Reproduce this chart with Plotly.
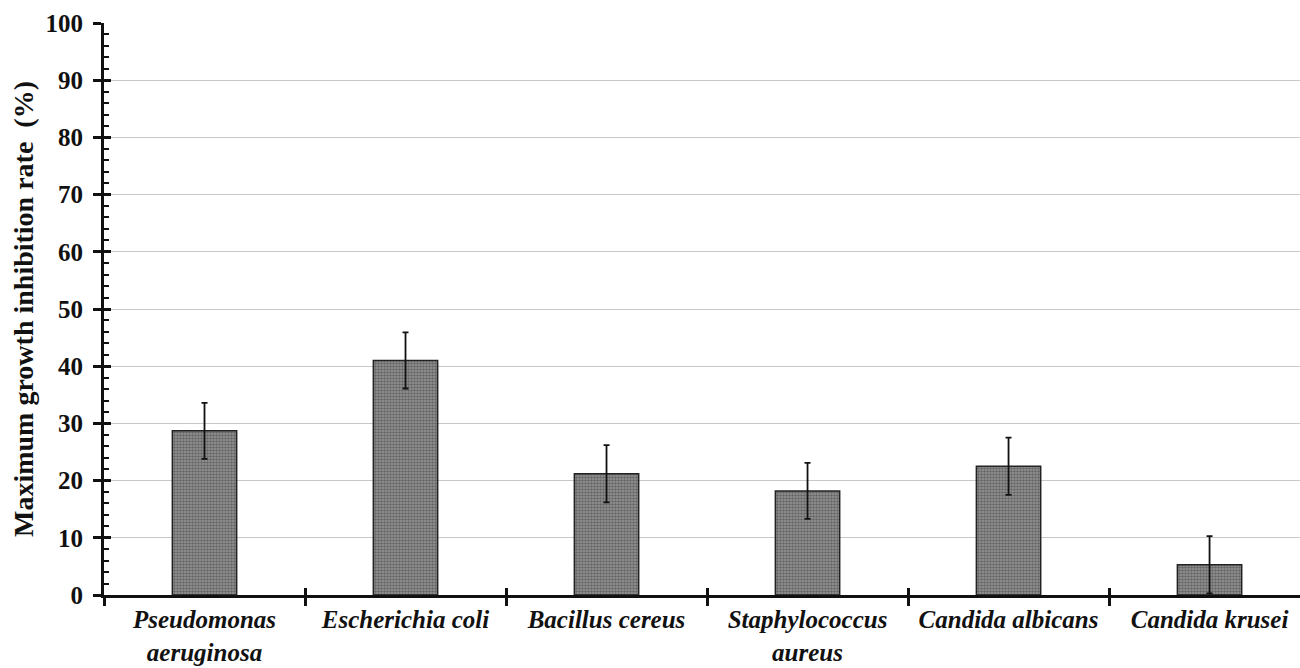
import plotly.graph_objects as go

categories = ["Pseudomonas<br>aeruginosa", "Escherichia coli", "Bacillus cereus",
              "Staphylococcus<br>aureus", "Candida albicans", "Candida krusei"]
values = [28.7, 41.0, 21.2, 18.2, 22.5, 5.3]
errors = [4.9, 4.9, 5.0, 4.9, 5.0, 5.0]
y_ticks = [0, 10, 20, 30, 40, 50, 60, 70, 80, 90, 100]

font_family = "Liberation Serif"

fig = go.Figure()
fig.add_trace(go.Bar(
    x=categories, y=values,
    width=0.32,
    marker=dict(
        color="#707070",
        line=dict(color="#222222", width=1.5),
        pattern=dict(shape=".", size=3, solidity=0.6, fgcolor="#333333", bgcolor="#999999"),
    ),
    error_y=dict(type="data", array=errors, visible=True, color="#111111", thickness=1.8, width=3),
    showlegend=False,
))
# invisible trace to drive the overlay axes (inner half of crossing ticks)
fig.add_trace(go.Scatter(x=categories, y=values, xaxis="x2", yaxis="y2",
                         mode="markers", marker=dict(opacity=0), showlegend=False, hoverinfo="skip"))

fig.update_layout(
    width=1300, height=668,
    margin=dict(l=104, r=0, t=23, b=73),
    plot_bgcolor="white", paper_bgcolor="white",
    font=dict(family=font_family, color="#111111"),
    xaxis=dict(
        type="category", categoryorder="array", categoryarray=categories,
        range=[-0.5, 5.45],
        showline=True, linecolor="#111111", linewidth=3,
        ticks="outside", tickson="boundaries", ticklen=8, tickwidth=3, tickcolor="#111111",
        tickfont=dict(family=font_family, size=25, weight="bold", style="italic", color="#111111"),
        showgrid=False,
    ),
    yaxis=dict(
        range=[0, 100], tickvals=y_ticks,
        showline=True, linecolor="#111111", linewidth=3,
        ticks="outside", ticklen=8, tickwidth=3, tickcolor="#111111",
        ticklabelstandoff=5,
        tickfont=dict(family=font_family, size=25, weight="bold", color="#111111"),
        showgrid=True, gridcolor="#c8c8c8", gridwidth=1,
        zeroline=False,
        title=dict(text="Maximum growth inhibition rate  (%)", standoff=4,
                   font=dict(family=font_family, size=28, weight="bold", color="#111111")),
    ),
    xaxis2=dict(
        type="category", categoryorder="array", categoryarray=categories,
        range=[-0.5, 5.45], overlaying="x", anchor="y", side="bottom",
        ticks="inside", tickson="boundaries", ticklen=7, tickwidth=3, tickcolor="#111111",
        showticklabels=False, showgrid=False, showline=False, zeroline=False,
    ),
    yaxis2=dict(
        range=[0, 100], tickvals=y_ticks, overlaying="y", anchor="x", side="left",
        ticks="inside", ticklen=7, tickwidth=3, tickcolor="#111111",
        showticklabels=False, showgrid=False, showline=False, zeroline=False,
        minor=dict(ticks="inside", dtick=2, ticklen=5, tickwidth=2, tickcolor="#111111", showgrid=False),
    ),
)

fig.write_html("out.html")
